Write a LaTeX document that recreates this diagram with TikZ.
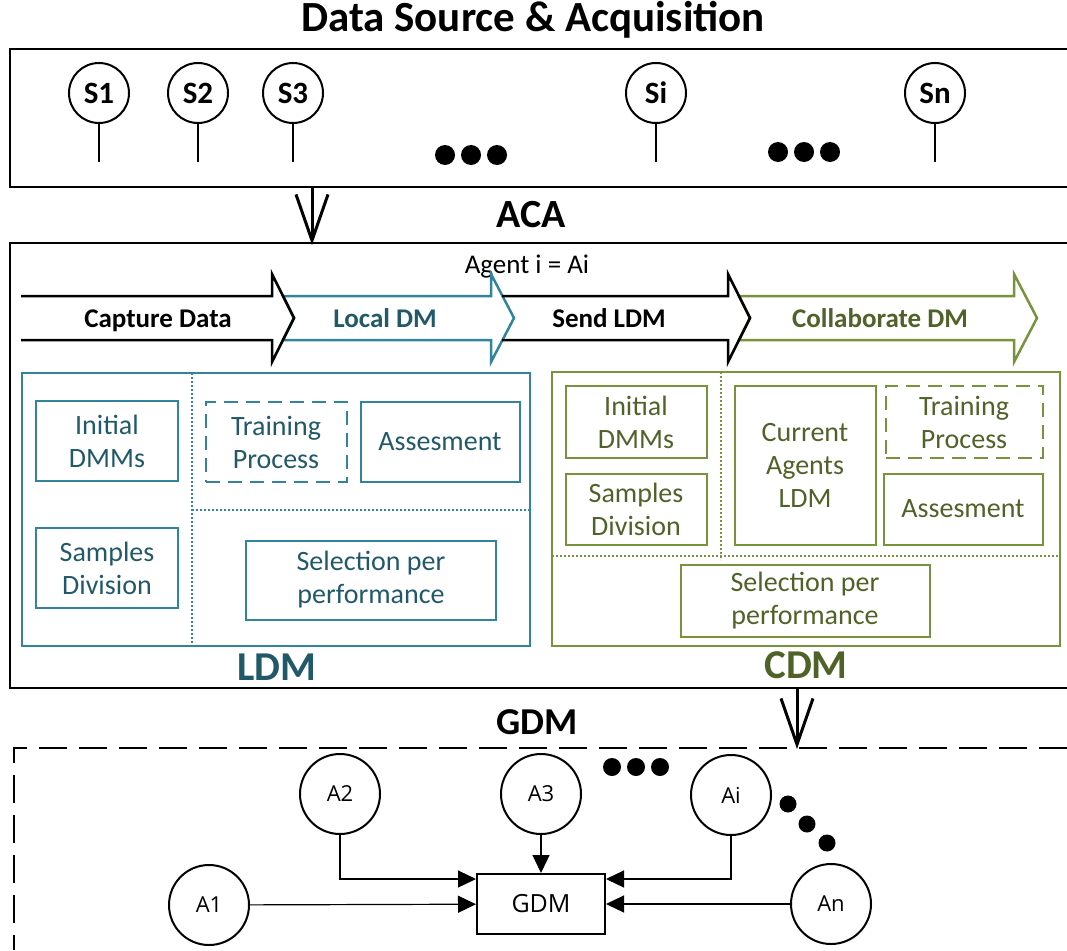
\documentclass[tikz,border=0pt]{standalone}
\usepackage{fontspec}
\setmainfont{Carlito}
\newfontfamily\agentfont{Open Sans}
\usetikzlibrary{arrows.meta,positioning}
\definecolor{ldmline}{RGB}{49,132,155}
\definecolor{ldmtext}{RGB}{33,89,104}
\definecolor{cdmline}{RGB}{119,147,60}
\definecolor{cdmtext}{RGB}{79,98,40}
\tikzstyle{frame}=[line width=2.5pt]
\tikzstyle{title}=[anchor=base, inner sep=0pt, font=\fontsize{43}{43}\selectfont\bfseries]
\tikzstyle{sensor}=[draw, circle, line width=2pt, minimum size=60pt, inner sep=0pt,
font=\fontsize{31}{31}\selectfont\bfseries]
\tikzstyle{bigarrow}=[-{Straight Barb[length=46pt,width=32pt,line join=miter,line cap=butt]}, line width=3pt]
\tikzstyle{stage}=[line width=2.5pt, line join=miter]
\tikzstyle{stagetext}=[anchor=base, inner sep=0pt, font=\fontsize{27}{27}\selectfont\bfseries]
\tikzstyle{inbox}=[draw, line width=2pt, align=center, inner sep=0pt,
font=\fontsize{28}{33}\selectfont]
\tikzstyle{lbox}=[inbox, draw=ldmline, text=ldmtext]
\tikzstyle{cbox}=[inbox, draw=cdmline, text=cdmtext]
\tikzstyle{agent}=[draw, circle, line width=2pt, minimum size=80pt, inner sep=0pt,
font=\agentfont\fontsize{22}{22}\selectfont]
\tikzstyle{link}=[-{Triangle[length=18pt,width=17pt]}, line width=1.2pt]
\begin{document}
\begin{tikzpicture}[x=1pt, y=-1pt]
    \useasboundingbox (0,0) rectangle (1067,950);

    % data sources
    \node[title] (src) at (533,32) {Data Source \& Acquisition};
    \draw[frame] (1067,49) -- (10,49) -- (10,187) -- (1067,187);
    \foreach \name/\x in {S1/99, S2/198, S3/293, Si/656, Sn/935}{
        \node[sensor] (\name) at (\x,93) {\name};
        \coordinate (\name-end) at (\x,162);
        \draw[line width=2pt] (\name) -- (\name-end);
    }
    \foreach \dx in {-26,0,26}{
        \fill (471+\dx,155) circle (10);
        \fill (804+\dx,152) circle (10);
    }

    \coordinate (srcout) at (312,187);
    \coordinate (acain) at (312,245);
    \draw[bigarrow] (srcout) -- (acain);

    % ACA
    \node[title, font=\fontsize{40}{40}\selectfont\bfseries] (aca) at (531,227) {ACA};
    \draw[frame] (1067,243) -- (10,243) -- (10,688) -- (1067,688);
    \node[stagetext, font=\fontsize{27}{27}\selectfont] (agent) at (527,273) {Agent i = Ai};

    \draw[stage, draw=ldmline] (283,296) -- (491,296) -- (491,274) -- (514,318)
        -- (491,362) -- (491,340) -- (283,340) -- (294,318) -- cycle;
    \draw[stage] (21,296) -- (272,296) -- (272,274) -- (294,318)
        -- (272,362) -- (272,340) -- (21,340);
    \draw[stage, draw=cdmline] (739,296) -- (1014,296) -- (1014,274) -- (1037,318)
        -- (1014,362) -- (1014,340) -- (739,340) -- (750,318) -- cycle;
    \draw[stage] (502,296) -- (728,296) -- (728,274) -- (750,318)
        -- (728,362) -- (728,340) -- (502,340);

    \node[stagetext] (capture) at (158,327) {Capture Data};
    \node[stagetext, text=ldmtext] (local) at (385,327) {Local DM};
    \node[stagetext] (send) at (609,327) {Send LDM};
    \node[stagetext, text=cdmtext] (collab) at (880,327) {Collaborate DM};

    % LDM
    \draw[line width=2.5pt, ldmline] (22,373) rectangle (530,646);
    \draw[line width=2pt, ldmline, dotted] (192,373) -- (192,646);
    \draw[line width=2pt, ldmline, dotted] (192,510) -- (530,510);
    \node[lbox, minimum width=142pt, minimum height=80pt] (ini1) at (107,441) {Initial\\DMMs};
    \node[lbox, dash pattern=on 14pt off 8pt, minimum width=141pt, minimum height=80pt] (train1) at (276,442) {Training\\Process};
    \node[lbox, minimum width=159pt, minimum height=80pt] (ases1) at (440,442) {Assesment};
    \node[lbox, minimum width=142pt, minimum height=80pt] (samp1) at (107,568) {Samples\\Division};
    \node[lbox, minimum width=250pt, minimum height=79pt] (sel1) at (371,580) {Selection per\\performance};
    \node[title, font=\fontsize{41}{41}\selectfont\bfseries, text=ldmtext] (ldm) at (277,680) {LDM};

    % CDM
    \draw[line width=2.5pt, cdmline] (552,372) rectangle (1060,646);
    \draw[line width=2pt, cdmline, dotted] (721,372) -- (721,560);
    \draw[line width=2pt, cdmline, dotted] (552,556) -- (1060,556);
    \node[cbox, minimum width=141pt, minimum height=72pt] (ini2) at (636,422) {Initial\\DMMs};
    \node[cbox, minimum width=141pt, minimum height=71pt] (samp2) at (636,509) {Samples\\Division};
    \node[cbox, minimum width=141pt, minimum height=159pt] (cur2) at (805,465) {Current\\Agents\\LDM};
    \node[cbox, dash pattern=on 14pt off 8pt, minimum width=157pt, minimum height=72pt] (train2) at (964,422) {Training\\Process};
    \node[cbox, minimum width=159pt, minimum height=71pt] (ases2) at (963,509) {Assesment};
    \node[cbox, minimum width=249pt, minimum height=72pt] (sel2) at (805,601) {Selection per\\performance};
    \node[title, font=\fontsize{41}{41}\selectfont\bfseries, text=cdmtext] (cdm) at (806,678) {CDM};

    \coordinate (cdmout) at (797,688);
    \coordinate (gdmin) at (797,749);
    \draw[bigarrow] (cdmout) -- (gdmin);

    % GDM
    \node[title, font=\fontsize{38}{38}\selectfont\bfseries] (gdmlabel) at (537,734) {GDM};
    \draw[frame, dash pattern=on 28pt off 12pt] (1067,748) -- (14,748) -- (14,950);

    \node[draw, line width=2pt, minimum width=128pt, minimum height=60pt,
        font=\agentfont\fontsize{25}{25}\selectfont] (gdm) at (541,904) {GDM};
    \node[agent] (A1) at (209,905) {A1};
    \node[agent] (A2) at (340,794) {A2};
    \node[agent] (A3) at (541,794) {A3};
    \node[agent] (Ai) at (731,795) {Ai};
    \node[agent] (An) at (831,904) {An};

    \draw[link] (A1) -- (gdm);
    \draw[link] (A2) |- ([yshift=25pt]gdm.west);
    \draw[link] (A3) -- (gdm);
    \draw[link] (Ai) |- ([yshift=25pt]gdm.east);
    \draw[link] (An) -- (gdm);

    \foreach \dx in {-24,0,24}
        \fill (636+\dx,767) circle (9);
    \foreach \px/\py in {788/804, 807/824, 827/843}
        \fill (\px,\py) circle (8.5);
\end{tikzpicture}
\end{document}
